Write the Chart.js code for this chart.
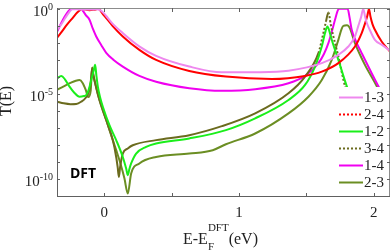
<!DOCTYPE html>
<html>
<head>
<meta charset="utf-8">
<script src="https://cdn.jsdelivr.net/npm/chart.js@4"></script>
<style>
    html, body { margin: 0; padding: 0; background: #ffffff; }
    #wrap { width: 392px; height: 250px; }
</style>
</head>
<body>
<div id="wrap"><canvas id="chart-transmission" width="392" height="250"></canvas></div>
<script>
// Energies E - E_F (eV) and log10 T(E), one pair per contact pair
const e13 = [-0.35, -0.32, -0.29, -0.26, -0.237, -0.2, -0.15, -0.1, -0.06, -0.03, -0.01, 0.015, 0.06, 0.138, 0.26, 0.385, 0.631, 0.873, 1.12, 1.367, 1.614, 1.737, 1.811, 1.86, 1.885, 1.905, 1.922, 1.935, 1.947, 1.965, 2.008, 2.058, 2.12];
const l13 = [-1.23, -0.93, -0.55, -0.2, -0.02, -0.03, -0.04, -0.04, -0.03, -0.08, -0.2, -0.42, -0.85, -1.42, -2.2, -2.76, -3.39, -3.73, -3.72, -3.63, -3.19, -2.7, -2.21, -1.62, -1.0, -0.5, 0, -0.45, -0.8, -1.15, -1.82, -2.1, -2.45];

const e24 = [-0.35, -0.32, -0.276, -0.23, -0.202, -0.18, -0.163, -0.14, -0.11, -0.08, -0.06, -0.044, -0.03, -0.015, 0.015, 0.06, 0.138, 0.261, 0.385, 0.631, 0.903, 1.244, 1.49, 1.614, 1.737, 1.86, 1.91, 1.935, 1.952, 1.964, 1.975, 1.99, 2.008, 2.058, 2.12];
const l24 = [-1.7, -1.4, -0.93, -0.5, -0.23, -0.08, 0, -0.04, -0.08, -0.06, -0.03, 0, -0.08, -0.25, -0.54, -0.98, -1.62, -2.41, -3.0, -3.65, -3.98, -4.12, -3.94, -3.69, -3.19, -2.21, -1.42, -0.85, -0.4, 0, -0.45, -0.9, -1.23, -1.92, -2.51];

const e12 = [-0.35, -0.318, -0.29, -0.257, -0.22, -0.183, -0.15, -0.133, -0.115, -0.096, -0.08, -0.067, -0.058, -0.047, -0.03, -0.01, 0.039, 0.089, 0.138, 0.163, 0.175, 0.187, 0.2, 0.237, 0.311, 0.385, 0.631, 0.903, 1.12, 1.367, 1.49, 1.564, 1.614, 1.638, 1.656, 1.672, 1.688, 1.737, 1.799, 1.84];
const l12 = [-4.08, -3.94, -4.15, -4.57, -4.94, -5.16, -5.12, -5.06, -4.75, -4.18, -3.7, -3.29, -3.9, -4.57, -5.2, -5.75, -6.83, -7.71, -8.7, -9.38, -9.77, -9.4, -9.08, -8.5, -8.11, -7.91, -7.61, -7.12, -6.43, -5.35, -4.47, -3.39, -2.21, -1.42, -1.03, -1.35, -1.82, -3.0, -4.53, -5.3];

const e34 = [-0.35, -0.3, -0.25, -0.207, -0.17, -0.14, -0.115, -0.1, -0.089, -0.08, -0.06, -0.035, 0.015, 0.064, 0.089, 0.1, 0.109, 0.118, 0.138, 0.175, 0.212, 0.385, 0.631, 0.873, 1.12, 1.367, 1.49, 1.589, 1.626, 1.645, 1.663, 1.68, 1.7, 1.737, 1.786, 1.82];
const l34 = [-5.45, -5.55, -5.6, -5.59, -5.45, -5.25, -4.9, -4.3, -3.47, -3.9, -4.6, -5.35, -6.53, -7.71, -8.7, -9.3, -9.87, -9.3, -8.5, -8.2, -8.01, -7.71, -7.42, -6.89, -6.14, -4.96, -3.98, -2.6, -1.42, -0.75, -0.21, -0.9, -1.62, -2.8, -4.53, -5.3];

const e14 = [-0.35, -0.306, -0.276, -0.257, -0.245, -0.2, -0.17, -0.155, -0.135, -0.109, -0.085, -0.059, -0.02, 0.015, 0.07, 0.138, 0.261, 0.385, 0.631, 0.873, 1.12, 1.367, 1.49, 1.589, 1.63, 1.663, 1.69, 1.712, 1.73, 1.74, 1.806, 1.82, 1.836, 1.87, 1.91, 1.984, 2.033, 2.07];
const l14 = [-1.35, -0.64, -0.25, -0.06, 0, 0, 0, -0.15, -0.38, -0.64, -1.15, -1.62, -2.15, -2.58, -3.0, -3.39, -3.94, -4.28, -4.66, -4.81, -4.72, -4.37, -3.94, -3.19, -2.65, -2.01, -1.3, -0.64, -0.15, 0, 0, -0.5, -1.23, -1.95, -2.6, -3.78, -4.53, -5.1];

const e23 = [-0.35, -0.3, -0.25, -0.21, -0.183, -0.16, -0.135, -0.118, -0.1, -0.089, -0.08, -0.06, -0.035, 0.015, 0.064, 0.089, 0.12, 0.15, 0.175, 0.2, 0.261, 0.385, 0.631, 0.805, 0.903, 1.12, 1.367, 1.515, 1.614, 1.688, 1.737, 1.76, 1.774, 1.8, 1.811, 1.823, 1.86, 1.934, 2.021, 2.06];
const l23 = [-4.76, -4.55, -4.35, -4.22, -4.18, -4.35, -4.8, -5.18, -4.8, -3.45, -3.9, -4.6, -5.35, -6.53, -7.71, -8.3, -9.07, -9.95, -10.85, -9.67, -9.08, -8.7, -8.5, -8.3, -7.95, -7.32, -6.14, -5.16, -4.18, -3.0, -1.82, -1.2, -1.0, -0.97, -1.0, -1.15, -2.01, -3.29, -4.53, -5.2];

const pairLabels = ['1-3', '2-4', '1-2', '3-4', '1-4', '2-3'];
const xTicks = [0, 0.5, 1, 1.5, 2];
const xTickLabels = ['0', '', '1', '', '2'];
const yDecades = [0, -1, -2, -3, -4, -5, -6, -7, -8, -9, -10, -11];
const yLabelDecades = [0, -5, -10];

const series = [[e13, l13], [e24, l24], [e12, l12], [e34, l34], [e14, l14], [e23, l23]];

const lineStyles = [
    { color: '#ee88ee', legendDash: [] },
    { color: '#ff0000', legendDash: [2, 2] },
    { color: '#1aee1a', legendDash: [] },
    { color: '#6b6b1e', legendDash: [2, 2] },
    { color: '#f000f0', legendDash: [] },
    { color: '#6b8e23', legendDash: [] }
];

const serif = '"Liberation Serif", "Times New Roman", serif';

// MATLAB style dotted line: the dots only show on the long steep strokes of the upper peak
function steepDots(ctx) {
    const dy = Math.abs(ctx.p1.y - ctx.p0.y);
    const dx = Math.abs(ctx.p1.x - ctx.p0.x);
    const onPeak = e34[ctx.p0DataIndex] > 1.5;
    return onPeak && dy > 10 && dy > 2 * dx ? [2, 2] : undefined;
}

const frameAndLabels = {
    id: 'frameAndLabels',
    afterDatasetsDraw(chart) {
        const { ctx, chartArea: a } = chart;
        ctx.save();
        // legend sits inside the axes on a white box
        ctx.fillStyle = '#ffffff';
        ctx.fillRect(334, 87, a.right - 335, a.bottom - 88);
        ctx.font = '15px ' + serif;
        ctx.textBaseline = 'middle';
        ctx.textAlign = 'left';
        pairLabels.forEach((name, i) => {
            const ly = 97.5 + i * 17;
            ctx.strokeStyle = lineStyles[i].color;
            ctx.lineWidth = 2;
            ctx.setLineDash(lineStyles[i].legendDash);
            ctx.beginPath();
            ctx.moveTo(339, ly);
            ctx.lineTo(363, ly);
            ctx.stroke();
            ctx.setLineDash([]);
            ctx.fillStyle = '#222222';
            ctx.fillText(name, 364, ly + 1);
        });
        ctx.font = 'bold 14px "Open Sans", sans-serif';
        ctx.fillStyle = '#000000';
        ctx.fillText('DFT', 70, 174);
        ctx.restore();
    },
    afterDraw(chart) {
        const { ctx, chartArea: a, scales } = chart;
        const xs = scales.x, ys = scales.y;
        ctx.save();
        // box
        ctx.lineWidth = 1;
        ctx.strokeStyle = '#8c8c8c';
        ctx.strokeRect(a.left + 0.5, a.top + 0.5, a.right - a.left - 1, a.bottom - a.top - 1);
        ctx.strokeStyle = '#606060';
        ctx.beginPath();
        ctx.moveTo(a.left + 0.5, a.top);
        ctx.lineTo(a.left + 0.5, a.bottom - 0.5);
        ctx.lineTo(a.right, a.bottom - 0.5);
        ctx.stroke();
        // inward ticks
        ctx.beginPath();
        xTicks.forEach(v => {
            const px = Math.round(xs.getPixelForValue(v)) + 0.5;
            ctx.moveTo(px, a.bottom); ctx.lineTo(px, a.bottom - 4);
            ctx.moveTo(px, a.top); ctx.lineTo(px, a.top + 4);
        });
        yDecades.forEach(k => {
            const py = Math.round(ys.getPixelForValue(Math.pow(10, k))) + 0.5;
            ctx.moveTo(a.left, py); ctx.lineTo(a.left + 3, py);
            ctx.moveTo(a.right, py); ctx.lineTo(a.right - 3, py);
        });
        ctx.stroke();

        ctx.fillStyle = '#222222';
        // x tick labels
        ctx.font = '15px ' + serif;
        ctx.textAlign = 'center';
        ctx.textBaseline = 'alphabetic';
        xTicks.forEach((v, i) => {
            if (xTickLabels[i]) ctx.fillText(xTickLabels[i], xs.getPixelForValue(v), 217);
        });
        // y tick labels 10^k
        ctx.textAlign = 'left';
        yLabelDecades.forEach(k => {
            const py = ys.getPixelForValue(Math.pow(10, k));
            const sup = String(k);
            ctx.font = '10px ' + serif;
            const supW = ctx.measureText(sup).width;
            ctx.font = '15px ' + serif;
            const baseW = ctx.measureText('10').width;
            const xEnd = a.left - 4;
            ctx.fillText('10', xEnd - supW - baseW, py + 7);
            ctx.font = '10px ' + serif;
            ctx.fillText(sup, xEnd - supW, py + 1);
        });
        // axis titles
        ctx.font = '16px ' + serif;
        ctx.save();
        ctx.translate(7, 101);
        ctx.rotate(-Math.PI / 2);
        ctx.textAlign = 'center';
        ctx.textBaseline = 'middle';
        ctx.fillText('T(E)', 0, 0);
        ctx.restore();

        let tx = 183;
        ctx.textAlign = 'left';
        ctx.font = '16px ' + serif;
        ctx.fillText('E-E', tx, 244);
        tx += ctx.measureText('E-E').width;
        ctx.font = '11px ' + serif;
        ctx.fillText('DFT', tx, 231);
        ctx.fillText('F', tx, 250);
        tx += ctx.measureText('DFT').width;
        ctx.font = '16px ' + serif;
        ctx.fillText('(eV)', tx, 244);
        ctx.restore();
    }
};

new Chart(document.getElementById('chart-transmission'), {
    type: 'line',
    data: {
        datasets: series.map(([es, ls], i) => ({
            label: pairLabels[i],
            data: es.map((e, j) => ({ x: e, y: Math.pow(10, ls[j]) })),
            borderColor: lineStyles[i].color,
            backgroundColor: lineStyles[i].color,
            borderWidth: 2,
            fill: false,
            segment: pairLabels[i] === '3-4' ? { borderDash: steepDots } : {}
        }))
    },
    options: {
        responsive: false,
        animation: false,
        devicePixelRatio: 1,
        layout: { padding: { left: 0, top: 8, right: 2, bottom: 0 } },
        elements: {
            point: { radius: 0 },
            line: { cubicInterpolationMode: 'monotone' }
        },
        plugins: {
            legend: { display: false },
            tooltip: { enabled: false }
        },
        scales: {
            x: {
                type: 'linear',
                min: -0.35,
                max: 2.12,
                grid: { display: false },
                border: { display: false },
                ticks: { display: false },
                afterFit: s => { s.height = 53; }
            },
            y: {
                type: 'logarithmic',
                min: Math.pow(10, -11.05),
                max: Math.pow(10, 0.05),
                grid: { display: false },
                border: { display: false },
                ticks: { display: false },
                afterFit: s => { s.width = 57; }
            }
        }
    },
    plugins: [frameAndLabels]
});
</script>
</body>
</html>
